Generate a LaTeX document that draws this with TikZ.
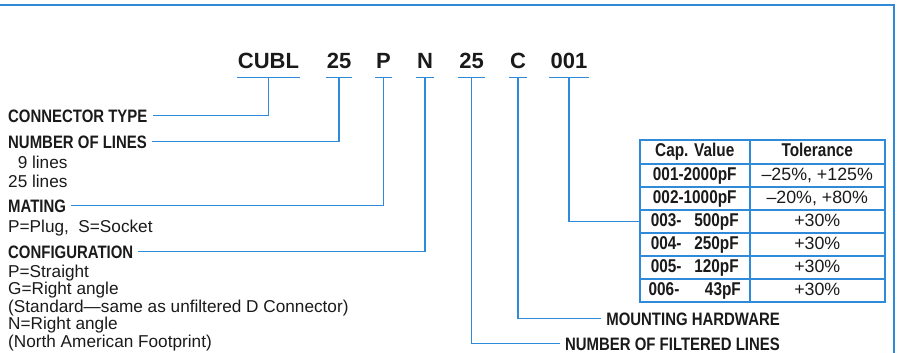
\documentclass[tikz,border=0pt]{standalone}
\usepackage{fontspec}
\definecolor{lineblue}{HTML}{2F8BDA}
\definecolor{inkblack}{HTML}{1A1A1A}
\newfontfamily\codefam{Liberation Sans}
\newfontfamily\narrowfam{Liberation Sans}[FakeStretch=0.83]
\newcommand{\codefont}{\codefam\bfseries\fontsize{22}{24}\selectfont}
\newcommand{\lblfont}{\narrowfam\bfseries\fontsize{18}{20}\selectfont}
\newcommand{\descfont}{\codefam\fontsize{17.2}{17.5}\selectfont}
\newcommand{\tabbold}{\narrowfam\bfseries\fontsize{18.5}{20}\selectfont}
\newcommand{\tabreg}{\codefam\fontsize{17.8}{19}\selectfont}

\begin{document}
\begin{tikzpicture}[
    x=1pt, y=-1pt,
    font=\descfont, text=inkblack,
    % Estilos de los nodos
    code/.style={font=\codefont, anchor=base, inner xsep=1pt, inner ysep=0pt, text depth=9pt},
    fieldname/.style={font=\lblfont, anchor=base west, inner xsep=5pt, inner ysep=0pt, text height=13pt, text depth=0pt},
    fieldright/.style={fieldname, anchor=base east},
    detail/.style={font=\descfont, anchor=base west, align=left, inner sep=0pt},
    cell/.style={draw=lineblue, line width=1.5pt, anchor=north west, minimum height=23pt, inner sep=0pt, text height=12.5pt, text depth=3pt},
    capcell/.style={cell, minimum width=110pt, font=\tabbold},
    tolcell/.style={cell, minimum width=135pt, font=\tabreg},
    % Estilos de las lineas
    conn/.style={draw=lineblue, line width=1.3pt},
    frame/.style={draw=lineblue, line width=2pt}
]
\useasboundingbox (0,0) rectangle (904,353);

% -- Marco --
\draw[frame] (0,5) -- (894,5) -- (894,353);

% -- Codigo de pieza --
\node[code] (c1) at (268.5,68) {CUBL};
\node[code] (c2) at (339,68) {25};
\node[code] (c3) at (383.5,68) {P};
\node[code] (c4) at (425,68) {N};
\node[code] (c5) at (471.5,68) {25};
\node[code] (c6) at (518,68) {C};
\node[code] (c7) at (569,68) {001};

\foreach \c in {c1,c2,c3,c4,c5,c6,c7}
    \draw[conn] (\c.south west) -- (\c.south east);

% -- Campos a la izquierda --
\node[fieldname] (ctype) at (3,122) {CONNECTOR TYPE};
\node[fieldname] (nlines) at (3,148) {NUMBER OF LINES};
\node[detail] (nlinesd) at (8,187) {\hphantom{2}9 lines\\[1.5pt]25 lines};
\node[fieldname] (mating) at (3,212) {MATING};
\node[detail] (matingd) at (8,232) {P=Plug,\ \ S=Socket};
\node[fieldname] (config) at (3,258) {CONFIGURATION};
\node[detail] (configd) at (8,347) {P=Straight\\G=Right angle\\(Standard—same as unfiltered D Connector)\\N=Right angle\\(North American Footprint)};

% -- Campos a la derecha --
\node[fieldright] (mount) at (785,325) {MOUNTING HARDWARE};
\node[fieldright] (filt) at (785,350) {NUMBER OF FILTERED LINES};

% -- Tabla de capacidades --
\node[capcell, minimum height=24pt] (cap-0) at (639,139) {Cap. Value};
\node[tolcell, minimum height=24pt, font=\tabbold] (tol-0) at (749,139) {Tolerance};
\foreach \cv/\tol [count=\r] in {{001-2000pF}/{–25\%, +125\%},
                                 {002-1000pF}/{–20\%, +80\%},
                                 {003-\hphantom{0}\ 500pF}/{+30\%},
                                 {004-\hphantom{0}\ 250pF}/{+30\%},
                                 {005-\hphantom{0}\ 120pF}/{+30\%},
                                 {006-\hphantom{00}\ \ 43pF}/{+30\%}} {
    \node[capcell] (cap-\r) at (639,{163+(\r-1)*23}) {\cv};
    \node[tolcell] (tol-\r) at (749,{163+(\r-1)*23}) {\tol};
}

% -- Conexiones --
\draw[conn] (c1.south) |- (ctype.east);
\draw[conn] (c2.south) |- (nlines.east);
\draw[conn] (c3.south) |- (mating.east);
\draw[conn] (c4.south) |- (config.east);
\draw[conn] (c5.south) |- (filt.west);
\draw[conn] (c6.south) |- (mount.west);
\draw[conn] (c7.south) |- (cap-3.west);

\end{tikzpicture}
\end{document}
